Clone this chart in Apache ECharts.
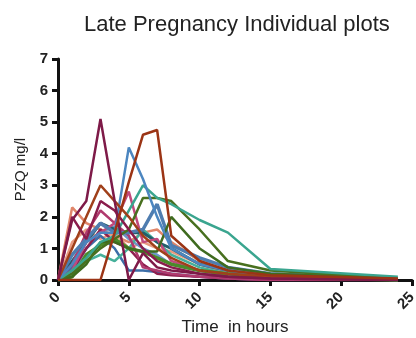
<!DOCTYPE html>
<html>
<head>
<meta charset="utf-8">
<script src="https://cdn.jsdelivr.net/npm/echarts@6/dist/echarts.min.js"></script>
<style>
  html, body { margin: 0; padding: 0; background: #fff; }
  #chart { width: 416px; height: 338px; }
</style>
</head>
<body>
<div id="chart"></div>
<script>
// sampling times (hours)
const times = [0, 1, 2, 3, 4, 5, 6, 7, 8, 10, 12, 15, 24]

// individual PZQ concentrations (mg/l)
const maroonA = [0, 1.9, 2.5, 5.1, 2.5, 0, 0.85, 0.4, 0.3, 0.2, 0.1, 0.05, 0]
const maroonB = [0, 2.0, 1.3, 2.5, 2.2, 1.6, 1.0, 0.6, 0.4, 0.2, 0.1, 0.05, 0]
const maroonC = [0, 0.3, 1.0, 1.6, 1.2, 1.0, 0.5, 0.2, 0.15, 0.1, 0.05, 0, 0]
const pinkA = [0, 0.3, 1.2, 1.5, 1.8, 2.8, 1.2, 1.3, 0.6, 0.3, 0.15, 0.05, 0]
const pinkB = [0, 0.5, 1.5, 2.2, 1.8, 1.4, 0.4, 0.3, 0.2, 0.1, 0.05, 0, 0]
const brownA = [0, 0, 0, 0, 1.5, 3.1, 4.6, 4.75, 1.4, 0.6, 0.3, 0.15, 0.05]
const brownB = [0, 1.0, 2.0, 3.0, 2.5, 2.0, 1.4, 1.0, 0.7, 0.3, 0.2, 0.1, 0]
const blueA = [0, 0.5, 1.2, 1.5, 1.5, 4.2, 3.2, 2.0, 1.0, 0.5, 0.3, 0.1, 0]
const blueB = [0, 0.8, 1.3, 1.8, 1.5, 1.5, 1.6, 2.4, 1.1, 0.7, 0.4, 0.2, 0.05]
const blueC = [0, 0.4, 1.0, 1.4, 1.0, 0.3, 0.3, 0.25, 0.2, 0.1, 0.05, 0, 0]
const blueD = [0, 0.2, 1.0, 1.5, 1.7, 1.3, 1.0, 0.8, 0.5, 0.3, 0.2, 0.1, 0]
const tealA = [0, 0.3, 0.7, 1.2, 1.4, 2.2, 3.0, 2.6, 2.4, 1.9, 1.5, 0.35, 0.1]
const tealB = [0, 0.2, 0.6, 0.8, 0.6, 1.0, 1.6, 1.2, 0.8, 0.4, 0.2, 0.1, 0]
const darkTeal = [0, 0.6, 1.2, 1.8, 1.6, 1.5, 1.5, 1.2, 1.0, 0.5, 0.3, 0.1, 0]
const greenA = [0, 0.2, 0.6, 1.0, 1.3, 1.6, 2.6, 2.6, 2.5, 1.6, 0.6, 0.3, 0.05]
const greenB = [0, 0.1, 0.5, 1.2, 1.2, 1.0, 0.9, 0.9, 2.0, 1.0, 0.4, 0.2, 0.05]
const greenC = [0, 0.1, 0.8, 1.1, 1.3, 1.0, 0.9, 0.7, 0.5, 0.3, 0.2, 0.1, 0]
const salmonA = [0, 2.3, 1.8, 1.6, 1.4, 1.2, 1.5, 1.6, 1.2, 0.6, 0.3, 0.1, 0]
const salmonB = [0, 1.2, 1.6, 1.3, 1.5, 1.0, 1.2, 1.0, 0.9, 0.5, 0.2, 0.1, 0]

const yTicks = [0, 1, 2, 3, 4, 5, 6, 7]
const xTicks = [0, 5, 10, 15, 20, 25]

const subjects = [
  { values: salmonA, color: '#e0866a', width: 2.5 },
  { values: salmonB, color: '#e89a80', width: 2.5 },
  { values: blueD, color: '#6b96c8', width: 2.5 },
  { values: blueC, color: '#3d6ea8', width: 2.5 },
  { values: tealB, color: '#45b09a', width: 2.5 },
  { values: darkTeal, color: '#235f6c', width: 3 },
  { values: maroonC, color: '#8e1f4e', width: 2.5 },
  { values: pinkB, color: '#b03a6e', width: 2.5 },
  { values: pinkA, color: '#c2497c', width: 2.5 },
  { values: blueB, color: '#4f7db0', width: 3.5 },
  { values: greenC, color: '#4b8a2a', width: 3.5 },
  { values: greenB, color: '#3f6b1f', width: 2.5 },
  { values: greenA, color: '#48701f', width: 2.5 },
  { values: tealA, color: '#3aa58f', width: 2.5 },
  { values: blueA, color: '#4c86c0', width: 2.5 },
  { values: brownB, color: '#a0401a', width: 2.5 },
  { values: maroonB, color: '#8a1d4c', width: 2.5 },
  { values: maroonA, color: '#7e1a48', width: 2.5 },
  { values: brownA, color: '#9b3415', width: 2.5 },
]

const chart = echarts.init(document.getElementById('chart'))
chart.setOption({
  animation: false,
  title: {
    text: 'Late Pregnancy Individual plots',
    left: 79,
    top: 9,
    textStyle: { fontFamily: 'Liberation Sans', fontSize: 22, fontWeight: 'normal', color: '#222' },
  },
  grid: { left: 58, right: 4, top: 59, bottom: 58, outerBoundsMode: 'none' },
  xAxis: {
    type: 'value',
    min: xTicks[0],
    max: xTicks[xTicks.length - 1],
    interval: 5,
    name: 'Time  in hours',
    nameLocation: 'middle',
    nameGap: 39,
    nameTextStyle: { fontFamily: 'Liberation Sans', fontSize: 17, color: '#222' },
    splitLine: { show: false },
    axisLine: { lineStyle: { color: '#111', width: 3 } },
    axisTick: { show: true, length: 6, lineStyle: { color: '#111', width: 3 } },
    axisLabel: {
      rotate: 45, margin: 15,
      fontFamily: 'Liberation Sans', fontSize: 15, fontWeight: 'bold', color: '#222',
    },
  },
  yAxis: {
    type: 'value',
    min: yTicks[0],
    max: yTicks[yTicks.length - 1],
    interval: 1,
    name: 'PZQ mg/l',
    nameLocation: 'middle',
    nameRotate: 90,
    nameGap: 28,
    nameTextStyle: { fontFamily: 'Liberation Sans', fontSize: 15, color: '#222' },
    splitLine: { show: false },
    axisLine: { show: true, lineStyle: { color: '#111', width: 3 } },
    axisTick: { show: true, length: 6, lineStyle: { color: '#111', width: 3 } },
    axisLabel: { margin: 10, fontFamily: 'Liberation Sans', fontSize: 15, fontWeight: 'bold', color: '#222' },
  },
  series: subjects.map((s) => ({
    type: 'line',
    symbol: 'none',
    data: times.map((t, i) => [t, s.values[i]]),
    lineStyle: { color: s.color, width: s.width },
    itemStyle: { color: s.color },
  })),
})
</script>
</body>
</html>
